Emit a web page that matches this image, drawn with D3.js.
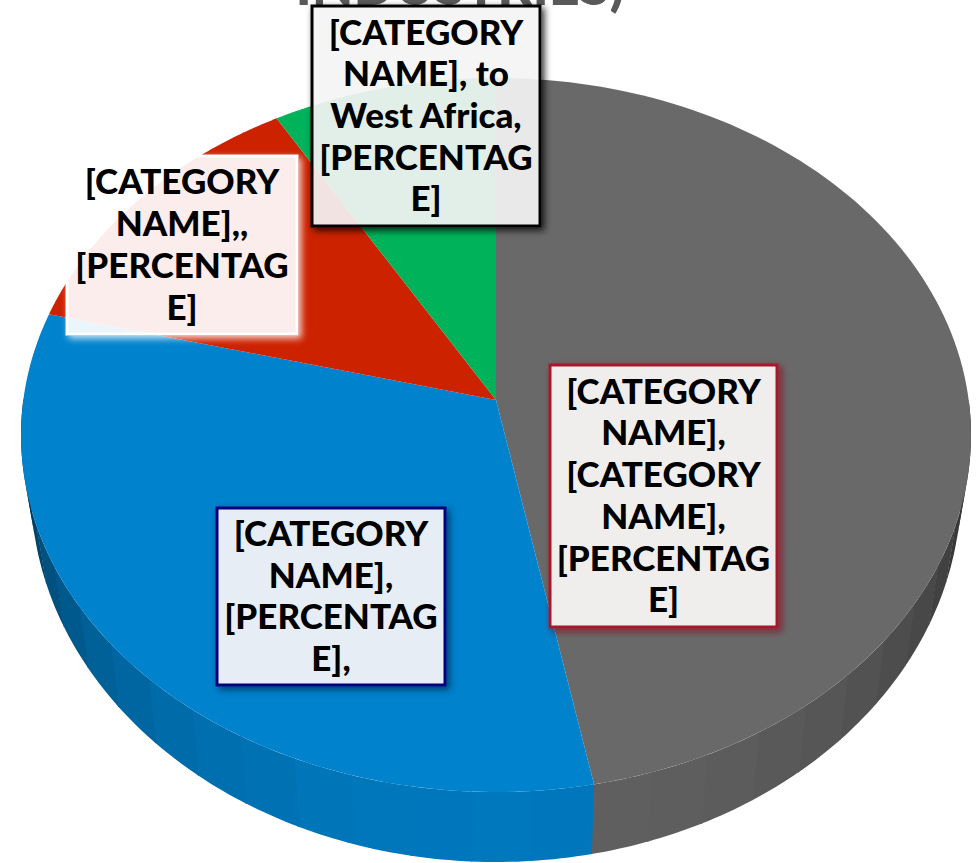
<!DOCTYPE html>
<html><head><meta charset="utf-8">
<script src="https://cdn.jsdelivr.net/npm/d3@7"></script>
<style>html,body{margin:0;padding:0;background:#fff;overflow:hidden}</style>
</head><body><svg id="c" width="979" height="863"></svg>
<script>
const categories = ["Industry A","Industry B","Industry C","Industry D"];
const seriesValues = [47,32,12.6,8.4];
const sliceColors = ["#696969","#0082cd","#cc2200","#00b25a"];
const labelLines = [
  ["[CATEGORY","NAME],","[CATEGORY","NAME],","[PERCENTAG","E]"],
  ["[CATEGORY","NAME],","[PERCENTAG","E],"],
  ["[CATEGORY","NAME],,","[PERCENTAG","E]"],
  ["[CATEGORY","NAME], to","West Africa,","[PERCENTAG","E]"]
];
const labelBoxes = [
  {x:550,y:365,w:227,h:262,stroke:"#a8182c",fill:"#f0eded",sw:3,op:1,sh:"#8a1020"},
  {x:217,y:508,w:228,h:177,stroke:"#00007e",fill:"#e6edf5",sw:3,op:1,sh:"#002a50"},
  {x:67,y:156,w:230,h:178,stroke:"#ffffff",fill:"#ffffff",sw:3,op:.92,sh:"#ffffff"},
  {x:312,y:6,w:228,h:220,stroke:"#000000",fill:"#f4f4f4",sw:3,op:.92,sh:"#000000"}
];
const titleText = "INDUSTRIES)";
const fontFamily = "Lato";

const svg = d3.select("#c");
const defs = svg.append("defs");
labelBoxes.forEach((b,i)=>{
  const f = defs.append("filter").attr("id","sh"+i).attr("x","-15%").attr("y","-15%").attr("width","130%").attr("height","130%");
  f.append("feGaussianBlur").attr("in","SourceAlpha").attr("stdDeviation",3.5).attr("result","b");
  f.append("feOffset").attr("in","b").attr("dx",3).attr("dy",3).attr("result","o");
  f.append("feFlood").attr("flood-color",b.sh).attr("flood-opacity",.8).attr("result","c");
  f.append("feComposite").attr("in","c").attr("in2","o").attr("operator","in").attr("result","s");
  f.append("feComposite").attr("in","s").attr("in2","SourceAlpha").attr("operator","out");
});

// title, clipped by the top of the picture
svg.append("text").text(titleText).attr("x",460).attr("y",5)
  .attr("text-anchor","middle").attr("font-family",fontFamily).attr("font-weight",900)
  .attr("font-size",54).attr("fill","#595959");

// perspective disc
const cx=496, apexY=400, A=472.7, B=353.6, k=-0.098;
const project=a=>{ const u=Math.sin(a), v=-Math.cos(a), w=1+k*v; return [cx+A*u/w, apexY+B*v/w]; };
const bx=496, by=489, brx=465, bry=373;
const projectBottom=a=>{ const [x,y]=project(a); return [bx+(x-cx)*brx/475, by+(y-435)*bry/357]; };

const pie=d3.pie().sort(null).value(d=>d);
const arcs=pie(seriesValues);
const line=d3.line();
const aRange=d=>d3.range(0,121).map(i=>d.startAngle+(d.endAngle-d.startAngle)*i/120);

// side wall, faceted
const facet=Math.PI/26;
const wall=svg.append("g");
arcs.forEach((d,i)=>{
  const base=d3.rgb(sliceColors[i]);
  const s=Math.max(d.startAngle,Math.PI*.5), e=Math.min(d.endAngle,Math.PI*1.5);
  if(e<=s) return;
  const n=Math.ceil((e-s)/facet);
  d3.range(n).forEach(j=>{
    const a0=s+(e-s)*j/n, a1=s+(e-s)*(j+1)/n+.004, am=(a0+a1)/2;
    const t=Math.abs(am-Math.PI)/(Math.PI*.5);
    const shade=.92-.5*Math.pow(t,2)-.3*Math.pow(t,8);
    const pts=d3.range(0,9).map(q=>a0+(a1-a0)*q/8);
    const top=pts.map(project), bot=pts.map(projectBottom).reverse();
    wall.append("path").attr("d",line(top.concat(bot))+"Z")
      .attr("fill",d3.rgb(base.r*shade,base.g*shade,base.b*shade));
  });
});

// top face
svg.append("g").selectAll("path").data(arcs).join("path")
  .attr("d",d=>line([[cx,apexY]].concat(aRange(d).map(project)))+"Z")
  .attr("fill",(d,i)=>sliceColors[i]);

// labels
const g=svg.append("g").selectAll("g").data(labelBoxes).join("g");
g.each(function(b,i){
  const s=d3.select(this);
  s.append("rect").attr("x",b.x).attr("y",b.y).attr("width",b.w).attr("height",b.h)
    .attr("fill","#000").attr("stroke","#000").attr("stroke-width",b.sw)
    .attr("filter",`url(#sh${i})`);
  s.append("rect").attr("x",b.x).attr("y",b.y).attr("width",b.w).attr("height",b.h)
    .attr("fill",b.fill).attr("fill-opacity",b.op).attr("stroke",b.stroke).attr("stroke-width",b.sw);
  const lines=labelLines[i];
  const lh=41.7, y0=b.y+b.h/2-(lines.length-1)*lh/2+12;
  lines.forEach((t,j)=>{
    s.append("text").text(t).attr("x",b.x+b.w/2).attr("y",y0+j*lh)
     .attr("text-anchor","middle").attr("font-family",fontFamily).attr("font-weight",900)
     .attr("font-size",35).attr("fill","#000");
  });
});
</script></body></html>
